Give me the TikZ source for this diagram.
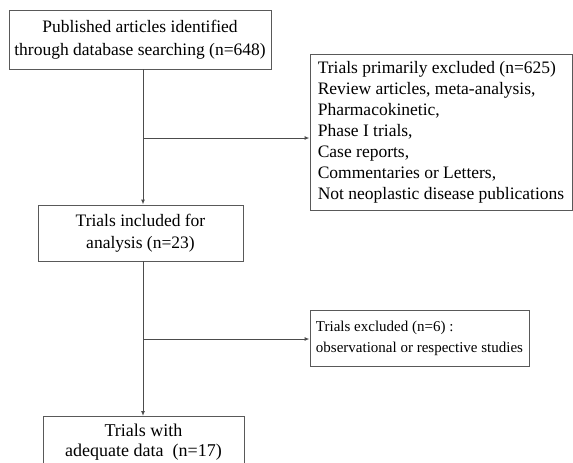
\documentclass[tikz,border=0pt]{standalone}
\usepackage{fontspec}
\setmainfont{Liberation Serif}
\usetikzlibrary{arrows.meta}
\tikzset{
  stagebox/.style={draw=black!65, line width=0.9pt, inner sep=3pt,
    font=\fontsize{17.5}{22}\selectfont},
  flowline/.style={draw=black!70, line width=1pt},
  flowarrow/.style={flowline, -{Latex[length=5pt,width=4pt]}}
}
\begin{document}
\begin{tikzpicture}[x=1pt,y=-1pt]
  \useasboundingbox (0,0) rectangle (573,463);
  \clip (0,0) rectangle (573,463);
  \draw
    (140,39.5) node[stagebox, minimum width=262pt, minimum height=59pt, align=center,
        font=\fontsize{17.5}{23.5}\selectfont]
      (found){Published articles identified\\through database searching (n=648)}
    (441,132) node[stagebox, minimum width=262pt, minimum height=156pt, align=left,
        font=\fontsize{17.5}{21}\selectfont]
      (excl1){Trials primarily excluded (n=625)\\Review articles, meta-analysis,\\Pharmacokinetic,\\Phase I trials,\\Case reports,\\Commentaries or Letters,\\Not neoplastic disease publications}
    (140.5,233) node[stagebox, minimum width=205pt, minimum height=56pt, align=center]
      (incl){Trials included for\\analysis (n=23)}
    (419.5,338) node[stagebox, minimum width=219pt, minimum height=56pt, align=left,
        font=\fontsize{15}{21}\selectfont]
      (excl2){Trials excluded (n=6) :\\observational or respective studies}
    (143.5,416) node[stagebox, anchor=north, minimum width=201pt, inner ysep=8pt, align=center,
        font=\fontsize{18}{20}\selectfont]
      (adeq){Trials with\\adequate data\ \ (n=17)};
  \coordinate (j1) at (143,138);
  \coordinate (j2) at (143,339);
  \begin{scope}
    \draw[flowarrow] (found.south -| j1) -- (incl.north -| j1);
    \draw[flowarrow] (j1) -- (excl1.west |- j1);
    \draw[flowarrow] (incl.south -| j2) -- (adeq.north -| j2);
    \draw[flowarrow] (j2) -- (excl2.west |- j2);
  \end{scope}
\end{tikzpicture}
\end{document}
